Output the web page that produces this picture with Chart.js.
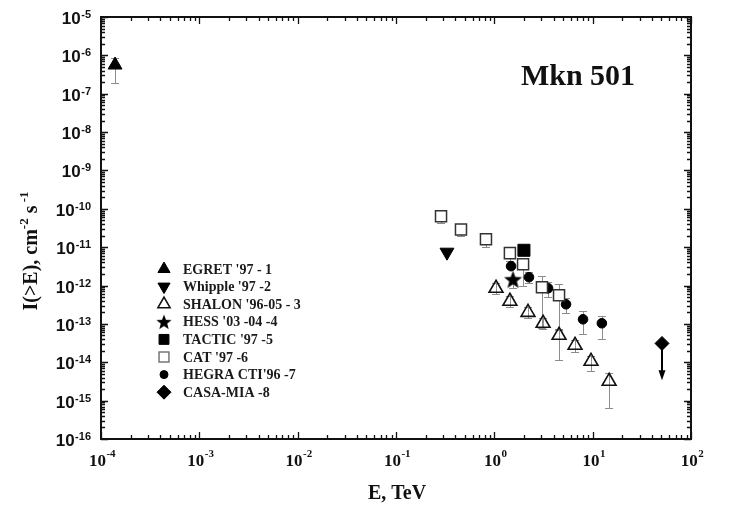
<!DOCTYPE html>
<html>
<head>
<meta charset="utf-8">
<script src="https://cdn.jsdelivr.net/npm/chart.js@4.4.1/dist/chart.umd.min.js"></script>
<style>
  html, body { margin: 0; padding: 0; background: #fff; }
  #wrap { width: 732px; height: 510px; }
</style>
</head>
<body>
<div id="wrap"><canvas id="c" width="732" height="510"></canvas></div>
<script>
// Integral gamma-ray flux of Mkn 501: E in TeV, I(>E) in cm^-2 s^-1
const egretE = [1.39e-4];
const egretI = [5.6e-7];
const egretLo = [1.9e-7];
const egretHi = [8.5e-7];

const whippleE = [0.33];
const whippleI = [7.4e-12];

const shalonE = [1.04, 1.44, 2.2, 3.13, 4.55, 6.62, 9.62, 14.7];
const shalonI = [8.5e-13, 3.9e-13, 2.0e-13, 1.04e-13, 5.06e-14, 2.77e-14, 1.06e-14, 3.2e-15];
const shalonLo = [5.9e-13, 2.7e-13, 1.4e-13, 7.2e-14, 1.12e-14, 1.82e-14, 5.8e-15, 6.3e-16];
const shalonHi = [1.15e-12, 5.3e-13, 2.7e-13, 1.4e-13, 7.2e-14, 3.7e-14, 1.43e-14, 5.15e-15];

const hessE = [1.55];
const hessI = [1.46e-12];
const hessLo = [8.5e-13];

const tacticE = [2.0];
const tacticI = [8.3e-12];

const catE = [0.287, 0.458, 0.822, 1.44, 1.96, 3.05, 4.55];
const catI = [6.4e-11, 2.9e-11, 1.6e-11, 7.0e-12, 3.6e-12, 9.0e-13, 5.6e-13];
const catLo = [4.2e-11, 1.93e-11, 1.0e-11, 4.3e-12, 1.0e-12, 7.7e-14, 6.8e-14];
const catHi = [null, null, null, null, null, 1.75e-12, 1.08e-12];

const hegraE = [1.48, 2.25, 3.52, 5.36, 7.98, 12.4];
const hegraI = [3.2e-12, 1.65e-12, 8.5e-13, 3.25e-13, 1.32e-13, 1.04e-13];
const hegraLo = [null, 1.15e-12, 4.96e-13, 1.89e-13, 5.4e-14, 3.97e-14];
const hegraHi = [null, 2.2e-12, 1.22e-12, 4.67e-13, 2.14e-13, 1.58e-13];

const casaE = [50.7];
const casaI = [3.1e-14];
const casaLimit = [3.4e-15];

const seriesLabels = ["EGRET '97 - 1", "Whipple '97 -2", "SHALON '96-05 - 3", "HESS '03 -04 -4",
                      "TACTIC '97 -5", "CAT '97 -6", "HEGRA CTI'96 -7", "CASA-MIA -8"];

const xDecades = [-4, -3, -2, -1, 0, 1, 2];
const yDecades = [-16, -15, -14, -13, -12, -11, -10, -9, -8, -7, -6, -5];

function pts(E, I, lo, hi, lim) {
  return E.map((e, i) => ({
    x: e, y: I[i],
    lo: lo ? lo[i] : null,
    hi: hi ? hi[i] : null,
    lim: lim ? lim[i] : null
  }));
}

// filled five-pointed star used as a point style
function makeStar(size) {
  const c = document.createElement('canvas');
  c.width = size; c.height = size;
  const g = c.getContext('2d');
  const cx = size / 2, cy = size / 2 + size * 0.05;
  const R = size / 2, r = R * 0.42;
  g.beginPath();
  for (let k = 0; k < 10; k++) {
    const rad = -Math.PI / 2 + k * Math.PI / 5;
    const rr = k % 2 === 0 ? R : r;
    const px = cx + rr * Math.cos(rad), py = cy + rr * Math.sin(rad);
    if (k === 0) g.moveTo(px, py); else g.lineTo(px, py);
  }
  g.closePath();
  g.fillStyle = '#000';
  g.fill();
  return c;
}
const starBig = makeStar(19);
const starSmall = makeStar(16);

const datasets = [
  { label: seriesLabels[0], data: pts(egretE, egretI, egretLo, egretHi),
    pointStyle: 'triangle', pointRadius: 8, backgroundColor: '#000', borderColor: '#000', borderWidth: 1,
    legendRadius: 7 },
  { label: seriesLabels[1], data: pts(whippleE, whippleI),
    pointStyle: 'triangle', rotation: 180, pointRadius: 8, backgroundColor: '#000', borderColor: '#000', borderWidth: 1,
    legendRadius: 7 },
  { label: seriesLabels[2], data: pts(shalonE, shalonI, shalonLo, shalonHi),
    pointStyle: 'triangle', pointRadius: 8, backgroundColor: 'rgba(255,255,255,0)', borderColor: '#111', borderWidth: 1.6,
    legendRadius: 7 },
  { label: seriesLabels[3], data: pts(hessE, hessI, hessLo),
    pointStyle: starBig, pointRadius: 9, backgroundColor: '#000', borderColor: '#000', borderWidth: 0,
    legendStyle: starSmall, legendRadius: 8 },
  { label: seriesLabels[4], data: pts(tacticE, tacticI),
    pointStyle: 'rect', pointRadius: 8.5, backgroundColor: '#000', borderColor: '#000', borderWidth: 1,
    legendRadius: 7 },
  { label: seriesLabels[5], data: pts(catE, catI, catLo, catHi),
    pointStyle: 'rect', pointRadius: 7.8, backgroundColor: '#fff', borderColor: '#333', borderWidth: 1.5,
    legendRadius: 7, legendBorder: '#777' },
  { label: seriesLabels[6], data: pts(hegraE, hegraI, hegraLo, hegraHi),
    pointStyle: 'circle', pointRadius: 4.8, backgroundColor: '#000', borderColor: '#000', borderWidth: 1,
    legendRadius: 4 },
  { label: seriesLabels[7], data: pts(casaE, casaI, null, null, casaLimit),
    pointStyle: 'rectRot', pointRadius: 7, backgroundColor: '#000', borderColor: '#000', borderWidth: 1,
    legendRadius: 7 }
];
datasets.forEach(d => { d.showLine = false; d.pointHoverRadius = d.pointRadius; });

// error bars and the upper-limit arrow, drawn underneath the markers
const errorBars = {
  id: 'errorBars',
  beforeDatasetsDraw(chart) {
    const ctx = chart.ctx;
    const ys = chart.scales.y;
    ctx.save();
    chart.data.datasets.forEach((ds, di) => {
      const meta = chart.getDatasetMeta(di);
      ds.data.forEach((p, j) => {
        const el = meta.data[j];
        const x = el.x, y = el.y;
        const cap = 4;
        ctx.strokeStyle = '#8c8c8c';
        ctx.lineWidth = 1;
        if (p.hi != null) {
          const yh = Math.round(ys.getPixelForValue(p.hi)) + 0.5;
          ctx.beginPath();
          ctx.moveTo(Math.round(x) + 0.5, y); ctx.lineTo(Math.round(x) + 0.5, yh);
          ctx.moveTo(x - cap, yh); ctx.lineTo(x + cap, yh);
          ctx.stroke();
        }
        if (p.lo != null) {
          const yl = Math.round(ys.getPixelForValue(p.lo)) + 0.5;
          ctx.beginPath();
          ctx.moveTo(Math.round(x) + 0.5, y); ctx.lineTo(Math.round(x) + 0.5, yl);
          ctx.moveTo(x - cap, yl); ctx.lineTo(x + cap, yl);
          ctx.stroke();
        }
        if (p.lim != null) {
          const yt = ys.getPixelForValue(p.lim);
          ctx.strokeStyle = '#000';
          ctx.fillStyle = '#000';
          ctx.lineWidth = 2;
          ctx.beginPath();
          ctx.moveTo(x, y); ctx.lineTo(x, yt - 8);
          ctx.stroke();
          ctx.beginPath();
          ctx.moveTo(x - 3.5, yt - 10); ctx.lineTo(x + 3.5, yt - 10); ctx.lineTo(x, yt);
          ctx.closePath();
          ctx.fill();
        }
      });
    });
    ctx.restore();
  }
};

// frame, inward ticks, decade labels, axis titles, legend and source name
const decor = {
  id: 'decor',
  afterDraw(chart) {
    const ctx = chart.ctx;
    const a = chart.chartArea;
    const xs = chart.scales.x, ys = chart.scales.y;
    ctx.save();

    // frame
    ctx.strokeStyle = '#111';
    ctx.lineWidth = 2;
    ctx.strokeRect(a.left, a.top, a.right - a.left, a.bottom - a.top);

    // ticks pointing into the plot
    ctx.lineWidth = 1.3;
    ctx.beginPath();
    for (let d = -4; d <= 2; d++) {
      for (let m = 1; m <= 9; m++) {
        if (d === 2 && m > 1) break;
        const v = m * Math.pow(10, d);
        const px = Math.round(xs.getPixelForValue(v)) + 0.5;
        const len = m === 1 ? 7 : 4;
        ctx.moveTo(px, a.bottom); ctx.lineTo(px, a.bottom - len);
        ctx.moveTo(px, a.top); ctx.lineTo(px, a.top + len);
      }
    }
    for (let d = -16; d <= -5; d++) {
      for (let m = 1; m <= 9; m++) {
        if (d === -5 && m > 1) break;
        const v = m * Math.pow(10, d);
        const py = Math.round(ys.getPixelForValue(v)) + 0.5;
        const len = m === 1 ? 7 : 4;
        ctx.moveTo(a.left, py); ctx.lineTo(a.left + len, py);
        ctx.moveTo(a.right, py); ctx.lineTo(a.right - len, py);
      }
    }
    ctx.stroke();

    // y decade labels (sans)
    ctx.fillStyle = '#111';
    ctx.textBaseline = 'alphabetic';
    yDecades.forEach(d => {
      const py = ys.getPixelForValue(Math.pow(10, d));
      const sup = String(d);
      ctx.font = 'bold 11px "Liberation Sans", Arial, sans-serif';
      const sw = ctx.measureText(sup).width;
      const sx = 91 - sw;
      ctx.textAlign = 'left';
      ctx.fillText(sup, sx, py + 1);
      ctx.font = 'bold 17px "Liberation Sans", Arial, sans-serif';
      ctx.textAlign = 'right';
      ctx.fillText('10', sx - 0.5, py + 7);
    });

    // x decade labels (serif)
    xDecades.forEach(d => {
      const px = xs.getPixelForValue(Math.pow(10, d));
      const sup = String(d);
      ctx.font = 'bold 17px "Liberation Serif", "Times New Roman", serif';
      const mw = ctx.measureText('10').width;
      ctx.font = 'bold 11px "Liberation Serif", "Times New Roman", serif';
      const sw = ctx.measureText(sup).width;
      const start = px - (mw + sw) / 2 + 1;
      ctx.textAlign = 'left';
      ctx.fillText(sup, start + mw + 0.5, 457);
      ctx.font = 'bold 17px "Liberation Serif", "Times New Roman", serif';
      ctx.fillText('10', start, 466);
    });

    // x title
    ctx.font = 'bold 20px "Liberation Serif", "Times New Roman", serif';
    ctx.textAlign = 'center';
    ctx.fillText('E, TeV', (a.left + a.right) / 2 + 1, 499);

    // y title with superscripts
    const parts = [
      { t: 'I(>E), cm', sup: false },
      { t: '-2', sup: true },
      { t: ' s', sup: false },
      { t: ' -1', sup: true }
    ];
    const mainFont = 'bold 20px "Liberation Serif", "Times New Roman", serif';
    const supFont = 'bold 13px "Liberation Serif", "Times New Roman", serif';
    let total = 0;
    parts.forEach(p => { ctx.font = p.sup ? supFont : mainFont; p.w = ctx.measureText(p.t).width; total += p.w; });
    ctx.translate(37, 251);
    ctx.rotate(-Math.PI / 2);
    ctx.textAlign = 'left';
    let cx = -total / 2;
    parts.forEach(p => {
      ctx.font = p.sup ? supFont : mainFont;
      ctx.fillText(p.t, cx, p.sup ? -9 : 0);
      cx += p.w;
    });
    ctx.setTransform(1, 0, 0, 1, 0, 0);

    // source name
    ctx.font = 'bold 30px "Liberation Serif", "Times New Roman", serif';
    ctx.textAlign = 'center';
    ctx.fillStyle = '#111';
    ctx.fillText('Mkn 501', 578, 85);

    // legend
    const lx = 164, ly = 269, step = 17.6;
    chart.data.datasets.forEach((ds, i) => {
      const y = ly + i * step;
      ctx.fillStyle = ds.backgroundColor;
      ctx.strokeStyle = ds.legendBorder || ds.borderColor;
      ctx.lineWidth = ds.borderWidth;
      const style = ds.legendStyle || ds.pointStyle;
      Chart.helpers.drawPoint(ctx, {
        pointStyle: style,
        radius: ds.legendRadius,
        rotation: ds.rotation || 0,
        borderWidth: ds.borderWidth
      }, lx, y);
      ctx.fillStyle = '#1a1a1a';
      ctx.font = 'bold 14px "Liberation Serif", "Times New Roman", serif';
      ctx.textAlign = 'left';
      ctx.textBaseline = 'middle';
      ctx.fillText(ds.label, 183, y + 1);
    });
    ctx.restore();
  }
};

new Chart(document.getElementById('c'), {
  type: 'scatter',
  data: { datasets },
  options: {
    responsive: false,
    animation: false,
    devicePixelRatio: 1,
    layout: { padding: { top: 17, right: 41, left: 0, bottom: 0 } },
    plugins: { legend: { display: false }, tooltip: { enabled: false }, title: { display: false } },
    scales: {
      x: {
        type: 'logarithmic', min: 1e-4, max: 1e2,
        ticks: { display: false }, grid: { display: false }, border: { display: false },
        afterFit: s => { s.height = 71; }
      },
      y: {
        type: 'logarithmic', min: 1e-16, max: 1e-5,
        ticks: { display: false }, grid: { display: false }, border: { display: false },
        afterFit: s => { s.width = 101; }
      }
    }
  },
  plugins: [errorBars, decor]
});
</script>
</body>
</html>
